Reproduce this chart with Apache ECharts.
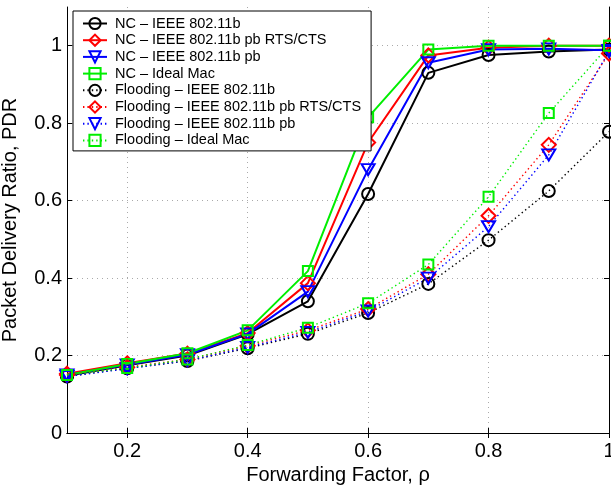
<!DOCTYPE html>
<html>
<head>
<meta charset="utf-8">
<script src="https://cdn.jsdelivr.net/npm/echarts@6/dist/echarts.min.js"></script>
<style>
  html, body { margin: 0; padding: 0; background: #fff; }
  #chart { width: 611px; height: 485px; }
</style>
</head>
<body>
<div id="chart"></div>
<script>
// forwarding factor
var rho = [0.1, 0.2, 0.3, 0.4, 0.5, 0.6, 0.7, 0.8, 0.9, 1.0];

// network coding
var ncBasic  = [0.148, 0.175, 0.200, 0.255, 0.340, 0.617, 0.930, 0.976, 0.985, 0.990];
var ncRts    = [0.153, 0.180, 0.205, 0.258, 0.387, 0.750, 0.975, 0.995, 1.000, 1.000];
var ncPb     = [0.150, 0.176, 0.202, 0.256, 0.365, 0.680, 0.956, 0.990, 0.992, 0.988];
var ncIdeal  = [0.150, 0.178, 0.206, 0.265, 0.418, 0.815, 0.990, 1.000, 1.000, 1.000];

// flooding
var flBasic  = [0.146, 0.167, 0.186, 0.219, 0.256, 0.310, 0.385, 0.498, 0.625, 0.778];
var flRts    = [0.150, 0.170, 0.190, 0.225, 0.265, 0.320, 0.410, 0.561, 0.744, 0.980];
var flPb     = [0.146, 0.166, 0.187, 0.221, 0.260, 0.315, 0.400, 0.533, 0.718, 0.985];
var flIdeal  = [0.150, 0.168, 0.190, 0.227, 0.272, 0.335, 0.435, 0.610, 0.826, 1.000];

var xTicks = [0.2, 0.4, 0.6, 0.8, 1.0];
var yTicks = [0, 0.2, 0.4, 0.6, 0.8, 1.0];

var FONT = 'Liberation Sans, Arial, Helvetica, sans-serif';
var triDown = 'path://M0,0L12,0L6,10Z';

function pts(ys) {
  return rho.map(function (x, i) { return [x, ys[i]]; });
}

// 一条曲线
function mk(name, ys, color, symbol, size, dotted) {
  return {
    name: name,
    type: 'line',
    data: pts(ys),
    symbol: symbol,
    symbolSize: size,
    showAllSymbol: true,
    animation: false,
    lineStyle: {
      color: color,
      width: dotted ? 1.4 : 2,
      type: dotted ? [1.4, 3] : 'solid'
    },
    itemStyle: {
      color: 'rgba(255,255,255,0)',
      borderColor: color,
      borderWidth: 2
    },
    emphasis: { disabled: true }
  };
}

var series = [
  mk('NC – IEEE 802.11b', ncBasic, '#000000', 'circle', 12, false),
  mk('NC – IEEE 802.11b pb RTS/CTS', ncRts, '#ff0000', 'diamond', 14, false),
  mk('NC – IEEE 802.11b pb', ncPb, '#0000ff', triDown, [13, 11], false),
  mk('NC – Ideal Mac', ncIdeal, '#00ee00', 'rect', 10, false),
  mk('Flooding – IEEE 802.11b', flBasic, '#000000', 'circle', 12, true),
  mk('Flooding – IEEE 802.11b pb RTS/CTS', flRts, '#ff0000', 'diamond', 14, true),
  mk('Flooding – IEEE 802.11b pb', flPb, '#0000ff', triDown, [13, 11], true),
  mk('Flooding – Ideal Mac', flIdeal, '#00ee00', 'rect', 10, true)
];

var gridLine = { show: true, lineStyle: { color: '#aaaaaa', type: [1, 4], width: 1 } };
var blackLine = { show: true, lineStyle: { color: '#000', width: 1 } };

var chart = echarts.init(document.getElementById('chart'));
chart.setOption({
  backgroundColor: '#ffffff',
  textStyle: { fontFamily: FONT },
  grid: { left: 67, right: 2, top: 7, bottom: 52, outerBoundsMode: 'none', containLabel: false },
  legend: {
    orient: 'vertical',
    left: 73,
    top: 11,
    padding: [5, 10, 3, 9],
    itemWidth: 24,
    itemHeight: 14,
    itemGap: 1.7,
    backgroundColor: '#ffffff',
    borderColor: '#000',
    borderWidth: 1,
    borderRadius: 0,
    selectedMode: false,
    textStyle: { fontFamily: FONT, fontSize: 14.5, lineHeight: 14, color: '#000', padding: [0, 0, 0, 3] },
    data: series.map(function (s) { return s.name; })
  },
  xAxis: [{
    type: 'value',
    min: 0.1,
    max: 1.0,
    name: 'Forwarding Factor, ρ',
    nameLocation: 'middle',
    nameGap: 29,
    nameTextStyle: { fontFamily: FONT, fontSize: 20, color: '#000' },
    axisLine: blackLine,
    axisTick: { show: true, inside: true, length: 5, lineStyle: { color: '#000' }, customValues: xTicks },
    axisLabel: { fontFamily: FONT, fontSize: 20, color: '#000', margin: 8, customValues: xTicks,
      formatter: function (v) { return String(Math.round(v * 10) / 10); } },
    splitLine: gridLine
  }, {
    type: 'value',
    position: 'top',
    min: 0.1,
    max: 1.0,
    axisLine: blackLine,
    axisTick: { show: true, inside: true, length: 5, lineStyle: { color: '#000' }, customValues: xTicks },
    axisLabel: { show: false },
    splitLine: { show: false }
  }],
  yAxis: [{
    type: 'value',
    min: 0,
    max: 1.1,
    name: 'Packet Delivery Ratio, PDR',
    nameLocation: 'middle',
    nameGap: 47,
    nameTextStyle: { fontFamily: FONT, fontSize: 20, color: '#000' },
    axisLine: blackLine,
    axisTick: { show: true, inside: true, length: 5, lineStyle: { color: '#000' }, customValues: yTicks },
    axisLabel: { fontFamily: FONT, fontSize: 20, color: '#000', margin: 5, customValues: yTicks,
      formatter: function (v) { return String(Math.round(v * 10) / 10); } },
    splitLine: gridLine
  }, {
    type: 'value',
    position: 'right',
    min: 0,
    max: 1.1,
    axisLine: blackLine,
    axisTick: { show: true, inside: true, length: 5, lineStyle: { color: '#000' }, customValues: yTicks },
    axisLabel: { show: false },
    splitLine: { show: false }
  }],
  series: series
});
</script>
</body>
</html>
